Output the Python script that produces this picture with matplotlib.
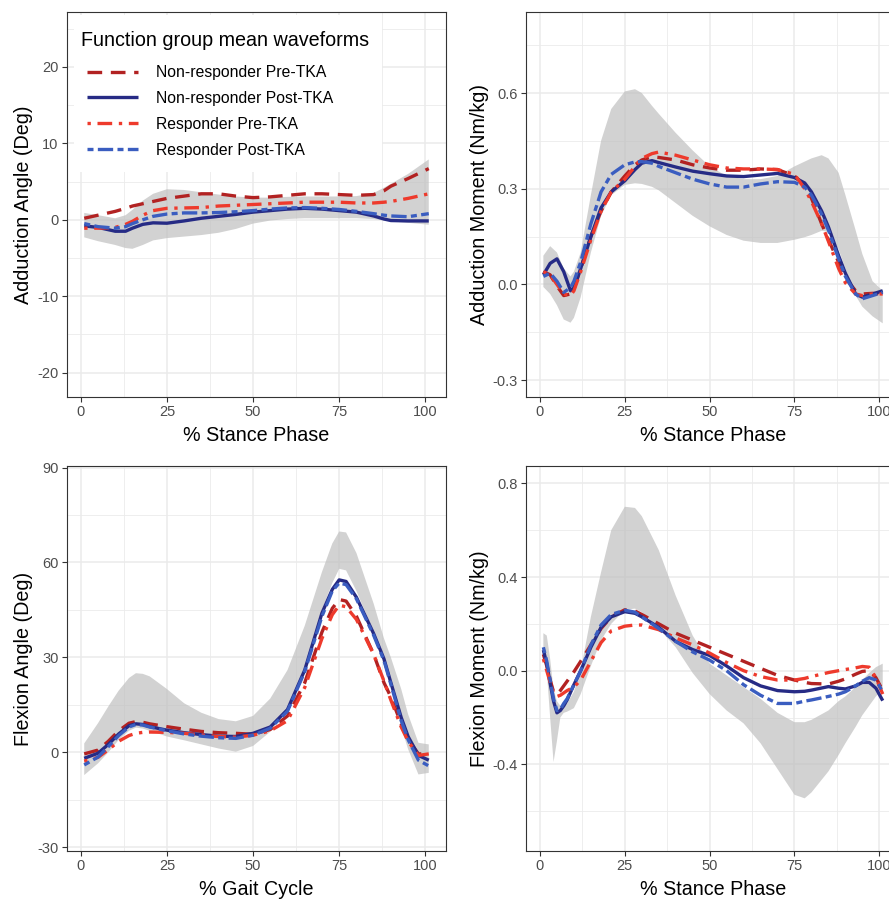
import matplotlib
matplotlib.use('Agg')
import matplotlib.pyplot as plt
from matplotlib.lines import Line2D
from matplotlib.patches import Rectangle

plt.rcParams['font.family'] = ['Liberation Sans', 'DejaVu Sans']
plt.rcParams['axes.unicode_minus'] = False

# groups / styles
labels = ['Non-responder Pre-TKA', 'Non-responder Post-TKA',
          'Responder Pre-TKA', 'Responder Post-TKA']
colors = ['#B22222', '#262B85', '#EE3A2C', '#3A5DC0']
dashes = [(4.4, 2.6), None, (1, 2, 4.4, 2), (1.8, 1.3, 4.6, 1.3)]

# --- Adduction angle (deg) vs % stance
aa_x = [1, 5, 10, 13, 15, 18, 21, 25, 30, 35, 40, 45, 50, 55, 60, 65, 70, 75, 80, 85, 88, 90, 95, 101]
aa_nr_pre = [0.2, 0.6, 1.1, 1.5, 1.8, 2.1, 2.4, 2.8, 3.1, 3.4, 3.4, 3.1, 2.9, 3.0, 3.2, 3.4, 3.4, 3.3, 3.2, 3.3, 3.8, 4.4, 5.4, 6.7]
aa_nr_post = [-0.8, -1.0, -1.5, -1.5, -1.1, -0.6, -0.4, -0.45, -0.15, 0.2, 0.45, 0.7, 1.0, 1.2, 1.4, 1.5, 1.4, 1.2, 1.0, 0.5, 0.1, -0.1, -0.15, -0.15]
aa_r_pre = [-1.1, -1.1, -1.0, -0.6, -0.2, 0.6, 1.2, 1.5, 1.55, 1.6, 1.8, 1.9, 2.0, 2.1, 2.2, 2.3, 2.3, 2.3, 2.2, 2.2, 2.3, 2.4, 2.8, 3.4]
aa_r_post = [-0.5, -0.9, -1.1, -0.9, -0.5, 0.0, 0.45, 0.75, 0.9, 0.9, 0.95, 1.05, 1.2, 1.4, 1.55, 1.6, 1.5, 1.35, 1.1, 0.8, 0.6, 0.5, 0.4, 0.8]
aa_lo = [-2.3, -2.8, -3.3, -3.7, -3.8, -3.3, -2.7, -2.4, -2.2, -2.0, -1.7, -1.2, -0.5, -0.1, 0.1, 0.2, 0.2, 0.2, 0.2, 0.1, -0.1, -0.2, -0.4, -0.65]
aa_hi = [0.9, 0.6, 0.2, 0.6, 1.3, 2.5, 3.4, 4.0, 3.9, 3.6, 3.3, 3.05, 2.9, 2.9, 3.0, 3.05, 3.05, 3.05, 3.1, 3.5, 4.2, 4.7, 6.0, 7.9]

# --- Adduction moment (Nm/kg) vs % stance
am_x = [1, 3, 5, 7, 9, 10, 12, 15, 18, 21, 25, 28, 30, 33, 35, 40, 45, 50, 55, 60, 65, 70, 75, 78, 80, 83, 85, 88, 90, 93, 95, 98, 101]
am_nr_pre = [0.04, 0.03, -0.005, -0.035, -0.03, -0.015, 0.05, 0.15, 0.23, 0.29, 0.34, 0.375, 0.39, 0.4, 0.398, 0.39, 0.375, 0.365, 0.358, 0.358, 0.362, 0.36, 0.34, 0.31, 0.27, 0.19, 0.14, 0.07, 0.02, -0.02, -0.03, -0.028, -0.03]
am_nr_post = [0.03, 0.066, 0.08, 0.04, -0.02, -0.01, 0.05, 0.15, 0.24, 0.29, 0.325, 0.36, 0.38, 0.388, 0.382, 0.368, 0.355, 0.347, 0.34, 0.338, 0.343, 0.348, 0.335, 0.318, 0.29, 0.23, 0.18, 0.09, 0.035, -0.03, -0.04, -0.03, -0.02]
am_r_pre = [0.04, 0.03, 0.0, -0.03, -0.035, -0.02, 0.04, 0.14, 0.23, 0.29, 0.33, 0.37, 0.395, 0.41, 0.415, 0.405, 0.39, 0.375, 0.365, 0.362, 0.362, 0.36, 0.345, 0.3, 0.26, 0.19, 0.135, 0.05, 0.005, -0.03, -0.035, -0.03, -0.03]
am_r_post = [0.025, 0.035, 0.01, -0.025, -0.01, 0.01, 0.07, 0.19, 0.29, 0.345, 0.375, 0.384, 0.385, 0.38, 0.37, 0.35, 0.33, 0.315, 0.305, 0.305, 0.315, 0.322, 0.32, 0.305, 0.28, 0.22, 0.17, 0.08, 0.025, -0.03, -0.045, -0.035, -0.025]
am_lo = [-0.008, -0.03, -0.065, -0.11, -0.12, -0.105, -0.04, 0.1, 0.215, 0.28, 0.312, 0.317, 0.315, 0.306, 0.295, 0.255, 0.215, 0.182, 0.155, 0.137, 0.13, 0.13, 0.14, 0.148, 0.155, 0.168, 0.165, 0.11, 0.05, -0.035, -0.07, -0.1, -0.122]
am_hi = [0.09, 0.12, 0.1, 0.05, 0.025, 0.04, 0.1, 0.28, 0.45, 0.55, 0.605, 0.612, 0.6, 0.56, 0.535, 0.475, 0.42, 0.37, 0.34, 0.33, 0.33, 0.34, 0.37, 0.385, 0.395, 0.405, 0.395, 0.35, 0.28, 0.17, 0.095, 0.01, -0.02]

# --- Flexion angle (deg) vs % gait cycle
fa_x = [1, 5, 8, 11, 14, 16, 18, 20, 25, 30, 35, 40, 45, 50, 55, 60, 65, 70, 73, 75, 77, 80, 85, 88, 90, 93, 95, 98, 101]
fa_nr_pre = [-0.5, 0.7, 3.5, 6.8, 9.2, 9.7, 9.5, 9.0, 8.1, 7.3, 6.6, 6.2, 6.0, 5.7, 7.2, 11.5, 22, 38, 45.5, 48.3, 47.8, 43, 31, 22, 17.5, 9, 4, -0.5, -0.5]
fa_nr_post = [-1.9, -0.3, 2.5, 5.8, 8.4, 9.0, 8.8, 8.1, 7.0, 6.2, 5.6, 5.1, 5.0, 6.0, 8.0, 13.5, 26, 44, 51.5, 54.5, 54, 49, 37.5, 29.5, 22, 11, 5, -1, -2.5]
fa_r_pre = [-2.8, -1.6, 0.8, 3.5, 5.3, 6.0, 6.3, 6.4, 6.3, 6.0, 5.5, 5.0, 4.8, 5.4, 6.8, 10, 20.5, 36, 43.5, 46.5, 46, 42, 31, 22.5, 16.5, 8, 3.5, -1, -0.5]
fa_r_post = [-4.0, -1.5, 1.8, 5.3, 8.0, 8.8, 8.6, 8.0, 6.8, 5.8, 5.1, 4.6, 4.4, 5.4, 7.6, 13, 25.5, 43, 51, 53.5, 53, 48.5, 37, 29, 21.5, 10, 4, -2.5, -4.3]
fa_lo = [-7.2, -3.5, 0.0, 3.9, 6.8, 7.8, 7.5, 6.8, 5.0, 3.8, 2.5, 1.2, 0.2, 2.0, 6.5, 13.5, 27, 45, 53.5, 58, 57.5, 51, 38, 29, 21, 8, 1, -7, -6.5]
fa_hi = [2.8, 9.2, 14.5, 19.5, 23.5, 25, 24.8, 24, 20, 15.5, 12.5, 10.5, 9.8, 11.5, 17, 26, 40, 57, 66, 69.8, 69.5, 63, 47, 36, 30, 20, 12, 3, 2.5]

# --- Flexion moment (Nm/kg) vs % stance
fm_x = [1, 2, 3, 4, 5, 6, 7, 8, 10, 12, 15, 18, 21, 25, 28, 30, 35, 40, 45, 50, 55, 60, 65, 70, 75, 78, 80, 85, 88, 90, 93, 95, 97, 99, 101]
fm_nr_pre = [0.07, 0.02, -0.04, -0.09, -0.1, -0.085, -0.065, -0.045, -0.005, 0.04, 0.11, 0.18, 0.23, 0.26, 0.255, 0.24, 0.2, 0.16, 0.13, 0.1, 0.07, 0.04, 0.01, -0.02, -0.04, -0.05, -0.055, -0.057, -0.045, -0.035, -0.015, -0.003, 0.0, -0.03, -0.085]
fm_nr_post = [0.088, 0.03, -0.054, -0.13, -0.18, -0.17, -0.15, -0.125, -0.06, 0.0, 0.1, 0.185, 0.23, 0.252, 0.245, 0.23, 0.185, 0.125, 0.09, 0.065, 0.02, -0.03, -0.065, -0.085, -0.09, -0.088, -0.083, -0.068, -0.075, -0.078, -0.065, -0.05, -0.05, -0.075, -0.128]
fm_r_pre = [0.05, 0.0, -0.05, -0.1, -0.11, -0.105, -0.095, -0.085, -0.07, -0.04, 0.04, 0.12, 0.17, 0.19, 0.195, 0.195, 0.175, 0.14, 0.11, 0.075, 0.035, 0.0, -0.025, -0.04, -0.04, -0.033, -0.025, -0.008, 0.0, 0.005, 0.012, 0.018, 0.015, -0.03, -0.1]
fm_r_post = [0.1, 0.04, -0.04, -0.12, -0.17, -0.165, -0.14, -0.12, -0.06, 0.0, 0.11, 0.195, 0.24, 0.258, 0.25, 0.23, 0.18, 0.125, 0.08, 0.045, 0.0, -0.06, -0.105, -0.14, -0.14, -0.13, -0.125, -0.11, -0.1, -0.09, -0.065, -0.045, -0.03, -0.04, -0.09]
fm_lo = [0.08, 0.0, -0.2, -0.39, -0.3, -0.2, -0.18, -0.175, -0.16, -0.1, 0.02, 0.13, 0.2, 0.26, 0.265, 0.25, 0.18, 0.1, -0.01, -0.1, -0.17, -0.225, -0.31, -0.42, -0.53, -0.545, -0.52, -0.43, -0.36, -0.31, -0.24, -0.19, -0.15, -0.11, -0.08]
fm_hi = [0.16, 0.15, 0.05, -0.08, -0.13, -0.15, -0.15, -0.14, -0.09, 0.0, 0.23, 0.42, 0.6, 0.7, 0.695, 0.66, 0.515, 0.32, 0.15, 0.03, -0.02, -0.07, -0.12, -0.18, -0.22, -0.22, -0.21, -0.17, -0.13, -0.11, -0.07, -0.04, -0.01, 0.015, 0.03]

W, H = 889, 899
fig = plt.figure(figsize=(W / 100, H / 100), dpi=100)
LW = 2.4


def panel(rect, x, series, lo, hi, ylim, yticks, yminor, ylabel, xlabel, fmt):
    ax = fig.add_axes([rect[0] / W, 1 - rect[3] / H, (rect[2] - rect[0]) / W, (rect[3] - rect[1]) / H])
    ax.fill_between(x, lo, hi, facecolor='#BFBFBF', alpha=0.7, linewidth=0, zorder=2)
    for ys, c, d in zip(series, colors, dashes):
        ln, = ax.plot(x, ys, color=c, lw=LW, zorder=3, solid_capstyle='butt', dash_capstyle='butt')
        if d:
            ln.set_dashes(d)
    ax.set_xlim(-4, 106)
    ax.set_ylim(*ylim)
    ax.set_xticks([0, 25, 50, 75, 100])
    ax.set_xticks([12.5, 37.5, 62.5, 87.5], minor=True)
    ax.set_yticks(yticks)
    ax.set_yticks(yminor, minor=True)
    ax.set_yticklabels([fmt.format(v) for v in yticks])
    ax.grid(which='major', color='#EBEBEB', lw=1.1, zorder=0)
    ax.grid(which='minor', color='#EBEBEB', lw=0.6, zorder=0)
    ax.set_axisbelow(True)
    ax.tick_params(which='major', length=3.5, width=0.8, color='#333333',
                   labelsize=10.5, labelcolor='#4D4D4D', pad=2.5)
    ax.tick_params(which='minor', length=0)
    for s in ax.spines.values():
        s.set_color('#333333')
        s.set_linewidth(0.8)
    ax.set_ylabel(ylabel, fontsize=14.2, labelpad=3)
    ax.set_xlabel(xlabel, fontsize=14.2, labelpad=5)
    return ax


ax1 = panel((67, 12, 446, 397), aa_x, [aa_nr_pre, aa_nr_post, aa_r_pre, aa_r_post], aa_lo, aa_hi,
            (-23.2, 27.2), [-20, -10, 0, 10, 20], [-15, -5, 5, 15, 25],
            'Adduction Angle (Deg)', '% Stance Phase', '{:g}')
ax2 = panel((526.4, 12, 899.7, 397), am_x, [am_nr_pre, am_nr_post, am_r_pre, am_r_post], am_lo, am_hi,
            (-0.353, 0.854), [-0.3, 0.0, 0.3, 0.6], [-0.15, 0.15, 0.45, 0.75],
            'Adduction Moment (Nm/kg)', '% Stance Phase', '{:.1f}')
ax3 = panel((67, 466, 446, 851), fa_x, [fa_nr_pre, fa_nr_post, fa_r_pre, fa_r_post], fa_lo, fa_hi,
            (-31.2, 90.5), [-30, 0, 30, 60, 90], [-15, 15, 45, 75],
            'Flexion Angle (Deg)', '% Gait Cycle', '{:g}')
ax4 = panel((526.4, 466, 899.7, 851), fm_x, [fm_nr_pre, fm_nr_post, fm_r_pre, fm_r_post], fm_lo, fm_hi,
            (-0.77, 0.874), [-0.4, 0.0, 0.4, 0.8], [-0.6, -0.2, 0.2, 0.6],
            'Flexion Moment (Nm/kg)', '% Stance Phase', '{:.1f}')

# legend: white backing box, title text, then keys (as in ggplot's inset legend)
def ax1_frac(px, py):
    return (px - 67) / 379, (397 - py) / 385

x0, y0 = ax1_frac(74, 172)
x1, y1 = ax1_frac(382, 15)
ax1.add_patch(Rectangle((x0, y0), x1 - x0, y1 - y0, transform=ax1.transAxes,
                        facecolor='white', edgecolor='none', zorder=1.5))
tx, ty = ax1_frac(81, 41)
ax1.text(tx, ty, 'Function group mean waveforms', transform=ax1.transAxes,
         fontsize=14.2, va='center', ha='left', zorder=5)

handles = []
for lab, c, d in zip(labels, colors, dashes):
    h = Line2D([], [], color=c, lw=LW, solid_capstyle='butt', dash_capstyle='butt', label=lab)
    if d:
        h.set_dashes(d)
    handles.append(h)
lx, ly = ax1_frac(87, 65)
leg = ax1.legend(handles=handles, loc='upper left', bbox_to_anchor=(lx, ly), borderaxespad=0,
                 frameon=False, fontsize=11.3, handlelength=3.25, handletextpad=1.15,
                 labelspacing=0.7, borderpad=0)

fig.savefig('out.png', dpi=100)
